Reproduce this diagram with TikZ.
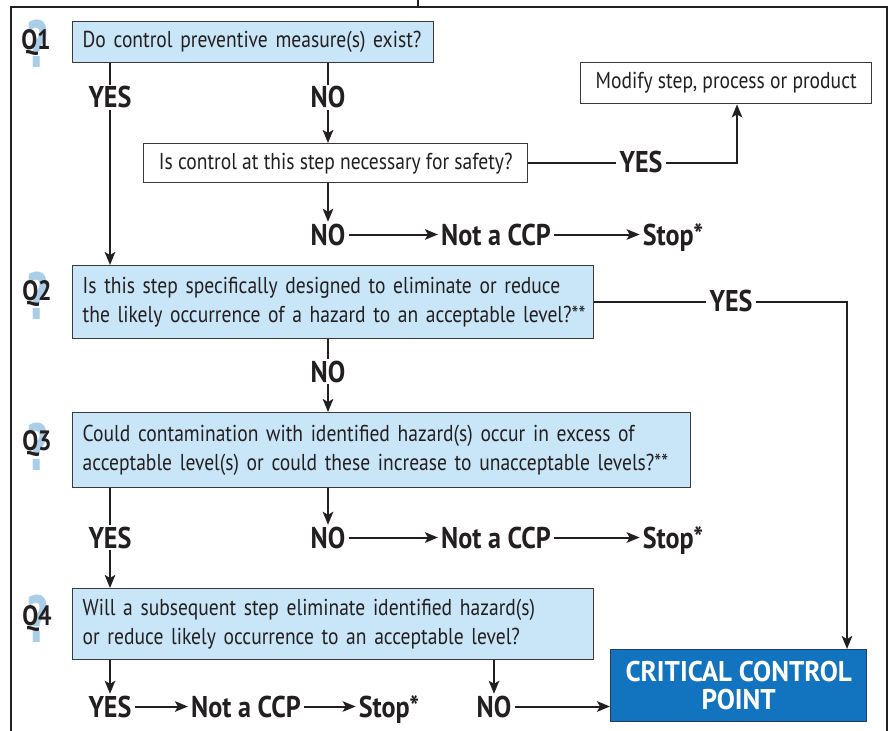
\documentclass[tikz,border=0pt]{standalone}
\usepackage{fontspec}
\setmainfont[FakeStretch=0.85]{PT Sans}
\newfontfamily\lblfont[FakeStretch=0.87]{PT Sans}
\newfontfamily\ccpfont[FakeStretch=0.95]{PT Sans}
\newfontfamily\markfont[FakeStretch=0.62]{DejaVu Sans}
\usetikzlibrary{arrows.meta}
\definecolor{ink}{HTML}{231F20}
\definecolor{qfill}{HTML}{C9E6F8}
\definecolor{qmark}{HTML}{AACDE8}
\definecolor{ccpblue}{HTML}{1273BE}
\definecolor{ccpline}{HTML}{1F3F66}
\definecolor{boxline}{HTML}{3A3A3A}
\begin{document}
\begin{tikzpicture}[x=1pt,y=-1pt,
  qbox/.style={draw=boxline, line width=1.4pt, fill=qfill, inner xsep=10pt, inner ysep=0pt,
    align=left, anchor=north west, text=ink, font=\fontsize{23}{29}\selectfont},
  wbox/.style={draw=boxline, line width=1.4pt, fill=white, inner sep=0pt, anchor=north west,
    text=ink, font=\fontsize{23}{29}\selectfont},
  lbl/.style={font=\lblfont\bfseries\fontsize{30}{30}\selectfont, text=ink, inner xsep=3pt, inner ysep=2pt,
    text height=21pt, text depth=0pt, anchor=base},
  qlab/.style={font=\bfseries\fontsize{28}{28}\selectfont, text=ink, inner sep=0pt},
  qmarkst/.style={font=\markfont\bfseries\fontsize{64}{64}\selectfont, text=qmark, inner sep=0pt},
  conn/.style={draw=ink, line width=2pt},
  arr/.style={draw=ink, line width=2pt, -{Stealth[length=13pt,width=10.5pt,inset=3pt]}},
  frame/.style={draw=ink, line width=1.3pt}
]
\useasboundingbox (0,0) rectangle (893,730);

% outer frame
\draw[frame] (11,735) -- (11,7) -- (887,7) -- (887,735);
\draw[frame] (418,0) -- (418,7);

% question markers: a pale question mark behind each label
\node[qmarkst] (qm1) at (38,44) {?};
\node[qlab] (ql1) at (36,43) {Q1};
\node[qmarkst] (qm2) at (38,296) {?};
\node[qlab] (ql2) at (37,294) {Q2};
\node[qmarkst] (qm3) at (38,447) {?};
\node[qlab] (ql3) at (37,444) {Q3};
\node[qmarkst] (qm4) at (38,619) {?};
\node[qlab] (ql4) at (37,619) {Q4};

% question boxes
\node[qbox, text width=341pt, minimum height=41pt] (q1) at (72,21)
  {\mbox{Do control preventive measure(s) exist?}};
\node[wbox, minimum width=384pt, minimum height=39pt] (safety) at (143,143)
  {Is control at this step necessary for safety?};
\node[wbox, minimum width=291pt, minimum height=41pt] (modify) at (580,62)
  {Modify step, process or product};
\node[qbox, text width=501pt, minimum height=73pt] (q2) at (72,265)
  {\mbox{Is this step specifically designed to eliminate or reduce}\\
   \mbox{the likely occurrence of a hazard to an acceptable level?**}};
\node[qbox, text width=598pt, minimum height=75pt] (q3) at (72,412)
  {\mbox{Could contamination with identified hazard(s) occur in excess of}\\
   \mbox{acceptable level(s) or could these increase to unacceptable levels?**}};
\node[qbox, text width=501pt, minimum height=71pt] (q4) at (72,588)
  {\mbox{Will a subsequent step eliminate identified hazard(s)}\\
   \mbox{or reduce likely occurrence to an acceptable level?}};
\node[draw=ccpline, line width=1.4pt, fill=ccpblue, anchor=north west, inner sep=0pt,
  minimum width=256pt, minimum height=72pt, align=center, text=white,
  font=\ccpfont\bfseries\fontsize{28.5}{28}\selectfont] (ccp) at (610,649)
  {CRITICAL CONTROL\\POINT};

% answer labels
\node[lbl] (yes1) at (110,108) {YES};
\node[lbl] (no1) at (328,108) {NO};
\node[lbl] (yessafe) at (641,172.5) {YES};
\node[lbl] (no2) at (328,245) {NO};
\node[lbl] (ncA) at (496,245) {Not a CCP};
\node[lbl] (stA) at (673,245) {Stop*};
\node[lbl] (yes2) at (731,311) {YES};
\node[lbl] (no3) at (328,382) {NO};
\node[lbl] (yes3) at (110,548) {YES};
\node[lbl] (no4) at (328,548) {NO};
\node[lbl] (ncB) at (496,548) {Not a CCP};
\node[lbl] (stB) at (673,548) {Stop*};
\node[lbl] (yes4) at (110,717) {YES};
\node[lbl] (ncC) at (246,717) {Not a CCP};
\node[lbl] (stC) at (389,717) {Stop*};
\node[lbl] (no5) at (494,717) {NO};

\coordinate (modx) at (737,0);
\coordinate (ccpx) at (847,0);

% Q1 branches
\draw[conn] (q1.south -| yes1.north) -- (yes1.north);
\draw[arr] (yes1.south) -- (q2.north -| yes1.south);
\draw[conn] (q1.south -| no1.north) -- (no1.north);
\draw[arr] (no1.south) -- (safety.north -| no1.south);

% safety question
\draw[conn] (safety.east) -- (safety.east -| yessafe.west);
\draw[arr] (yessafe.east |- safety.east) -| (modify.south -| modx);
\draw[arr] (safety.south -| no2.north) -- (no2.north);
\draw[arr] (no2.east) -- (ncA.west);
\draw[arr] (ncA.east) -- (stA.west);

% Q2 branches
\draw[conn] (q2.east) -- (q2.east -| yes2.west);
\draw[arr] (yes2.east |- q2.east) -| (ccp.north -| ccpx);
\draw[conn] (q2.south -| no3.north) -- (no3.north);
\draw[arr] (no3.south) -- (q3.north -| no3.south);

% Q3 branches
\draw[conn] (q3.south -| yes3.north) -- (yes3.north);
\draw[arr] (yes3.south) -- (q4.north -| yes3.south);
\draw[arr] (q3.south -| no4.north) -- (no4.north);
\draw[arr] (no4.east) -- (ncB.west);
\draw[arr] (ncB.east) -- (stB.west);

% Q4 branches
\draw[arr] (q4.south -| yes4.north) -- (yes4.north);
\draw[arr] (yes4.east) -- (ncC.west);
\draw[arr] (ncC.east) -- (stC.west);
\draw[arr] (q4.south -| no5.north) -- (no5.north);
\draw[arr] (no5.east) -- (no5.east -| ccp.west);
\end{tikzpicture}
\end{document}
